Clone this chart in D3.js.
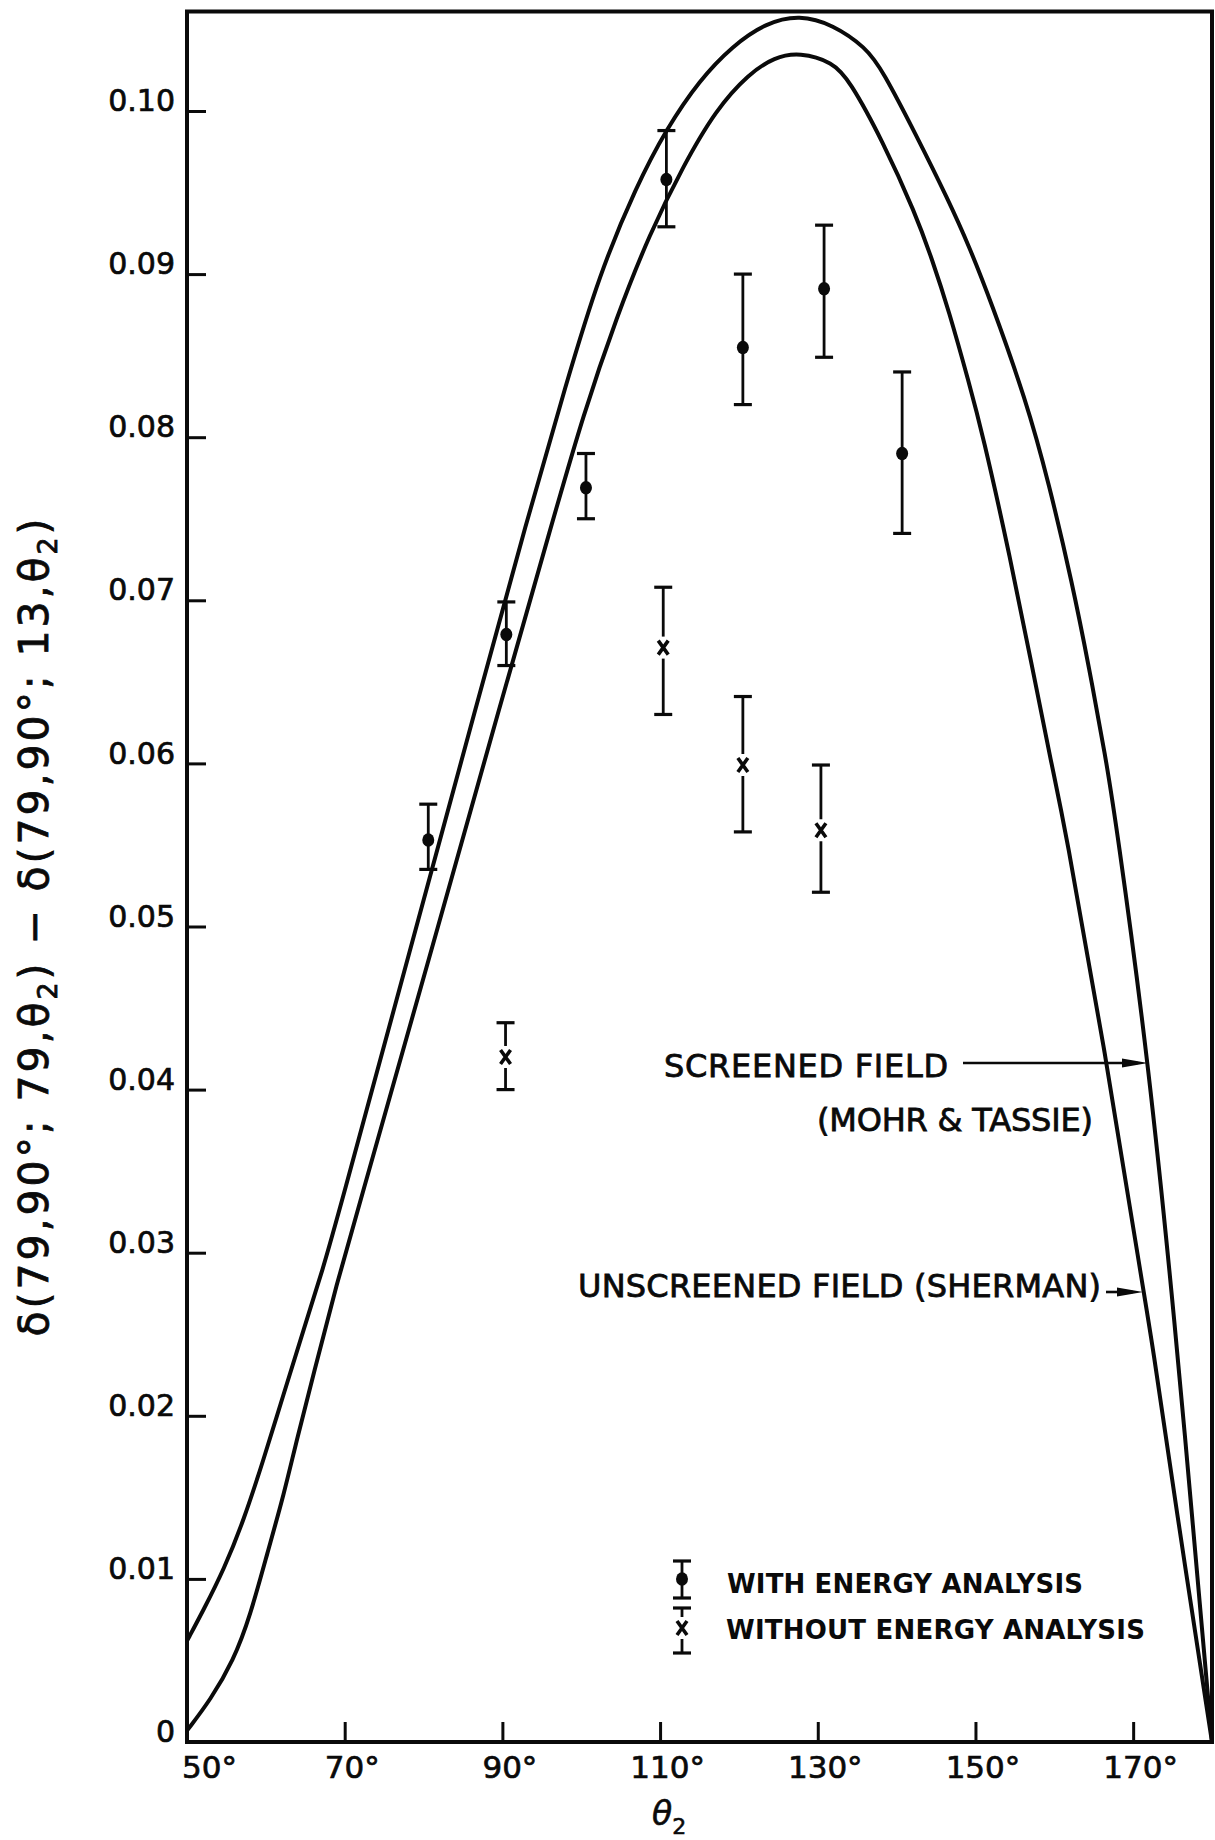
<!DOCTYPE html>
<html><head><meta charset="utf-8">
<script src="https://cdn.jsdelivr.net/npm/d3@7"></script>
<style>html,body{margin:0;padding:0;background:#fff}</style>
</head><body><svg id="c" width="1215" height="1840"></svg>
<script>
// ---------------- data ----------------
const xTicks = [50, 70, 90, 110, 130, 150, 170];
const xTickLabels = ["50°", "70°", "90°", "110°", "130°", "150°", "170°"];
const yTicks = [0, 0.01, 0.02, 0.03, 0.04, 0.05, 0.06, 0.07, 0.08, 0.09, 0.10];
const yTickLabels = ["0", "0.01", "0.02", "0.03", "0.04", "0.05", "0.06", "0.07", "0.08", "0.09", "0.10"];

// Screened field (Mohr & Tassie) curve
const screenedTheta = [50, 52.1, 54.7, 57.2, 59.7, 62.3, 64.8, 67.3, 69.0, 77.7, 86.9, 93.1, 98.1, 102.3, 107.0, 110.8, 115.0, 119.2, 123.4, 127.7, 131.9, 136.1, 138.2, 142.4, 146.6, 149.2, 151.9, 156.4, 159.3, 162.3, 164.4, 166.5, 167.8, 172.0, 175.5, 177.3, 180];
const screenedValue = [0.0062, 0.0081, 0.0106, 0.0136, 0.0173, 0.0214, 0.0253, 0.0291, 0.0320, 0.0475, 0.0639, 0.0749, 0.0833, 0.0900, 0.0954, 0.0989, 0.1019, 0.1040, 0.1054, 0.1059, 0.1053, 0.1039, 0.1025, 0.0986, 0.0945, 0.0917, 0.0884, 0.0823, 0.0772, 0.0710, 0.0659, 0.0604, 0.0565, 0.0416, 0.0246, 0.0148, 0.0];

// Unscreened field (Sherman) curve
const unscreenedTheta = [50, 53.0, 55.9, 58.0, 60.2, 62.3, 63.9, 66.5, 69.0, 71.3, 80.4, 89.9, 96.4, 100.2, 104.5, 108.7, 112.9, 117.1, 121.3, 124.5, 127.7, 131.9, 134.0, 138.2, 142.4, 144.5, 146.6, 149.2, 150.9, 154.2, 157.2, 159.7, 161.2, 166.5, 171.1, 172.4, 175.3, 180];
const unscreenedValue = [0.0007, 0.0026, 0.0050, 0.0077, 0.0116, 0.0152, 0.0185, 0.0234, 0.0281, 0.0320, 0.0475, 0.0639, 0.0749, 0.0813, 0.0874, 0.0925, 0.0966, 0.1001, 0.1023, 0.1033, 0.1036, 0.1030, 0.1019, 0.0982, 0.0937, 0.0909, 0.0878, 0.0833, 0.0802, 0.0731, 0.0659, 0.0598, 0.0565, 0.0422, 0.0282, 0.0246, 0.0148, 0.0];

// With energy analysis (dots)
const withTheta = [80.6, 90.5, 100.6, 110.8, 120.5, 130.8, 140.7];
const withValue = [0.0553, 0.0679, 0.0769, 0.0958, 0.0855, 0.0891, 0.0790];
const withHigh  = [0.0575, 0.0699, 0.0790, 0.0988, 0.0900, 0.0930, 0.0840];
const withLow   = [0.0535, 0.0660, 0.0750, 0.0929, 0.0820, 0.0849, 0.0741];

// Without energy analysis (crosses)
const withoutTheta = [90.4, 110.4, 120.5, 130.4];
const withoutValue = [0.0420, 0.0671, 0.0599, 0.0559];
const withoutHigh  = [0.0441, 0.0708, 0.0641, 0.0599];
const withoutLow   = [0.0400, 0.0630, 0.0558, 0.0521];

const legendLabels = ["WITH ENERGY ANALYSIS", "WITHOUT ENERGY ANALYSIS"];
const screenedLabel = ["SCREENED FIELD", "(MOHR & TASSIE)"];
const unscreenedLabel = "UNSCREENED FIELD (SHERMAN)";

// ---------------- chart ----------------
const W = 1215, H = 1840;
const svg = d3.select("#c");
svg.append("rect").attr("width", W).attr("height", H).attr("fill", "#fff");

const x = d3.scaleLinear().domain([50, 180]).range([187, 1212]);
const y = d3.scaleLinear().domain([0, 0.1061]).range([1742, 11.5]);
const INK = "#0a0a0a";
const FONT = "DejaVu Sans, sans-serif";

// clip
svg.append("clipPath").attr("id", "plotclip").append("rect")
  .attr("x", x(50)).attr("y", y(0.1061))
  .attr("width", x(180) - x(50)).attr("height", y(0) - y(0.1061));

// y axis
const gY = svg.append("g").attr("transform", `translate(${x(50)},0)`)
  .call(d3.axisLeft(y).tickValues(yTicks).tickSize(-19).tickSizeOuter(0).tickPadding(12)
    .tickFormat((d, i) => yTickLabels[i]));
gY.attr("font-family", FONT).attr("font-size", 30);
gY.select(".domain").remove();
gY.selectAll(".tick line").attr("stroke", INK).attr("stroke-width", 3);
gY.selectAll(".tick text").attr("fill", INK).attr("stroke", INK).attr("stroke-width", 0.7).attr("y", -10);

// x axis
const gX = svg.append("g").attr("transform", `translate(0,${y(0)})`)
  .call(d3.axisBottom(x).tickValues(xTicks).tickSize(-20).tickSizeOuter(0).tickPadding(14)
    .tickFormat((d, i) => xTickLabels[i]));
gX.attr("font-family", FONT).attr("font-size", 31);
gX.select(".domain").remove();
gX.selectAll(".tick line").attr("stroke", INK).attr("stroke-width", 3);
gX.selectAll(".tick text").attr("fill", INK).attr("stroke", INK).attr("stroke-width", 0.7)
  .attr("dx", (d, i) => i === 0 ? 22 : 7);

// frame
svg.append("rect")
  .attr("x", x(50)).attr("y", y(0.1061))
  .attr("width", x(180) - x(50)).attr("height", y(0) - y(0.1061))
  .attr("fill", "none").attr("stroke", INK).attr("stroke-width", 4);

// curves
const line = d3.line().x(d => x(d[0])).y(d => y(d[1])).curve(d3.curveBasis);
const curves = svg.append("g").attr("clip-path", "url(#plotclip)");
curves.append("path").datum(d3.zip(screenedTheta, screenedValue))
  .attr("d", line).attr("fill", "none").attr("stroke", INK).attr("stroke-width", 4);
curves.append("path").datum(d3.zip(unscreenedTheta, unscreenedValue))
  .attr("d", line).attr("fill", "none").attr("stroke", INK).attr("stroke-width", 4);

// error bars
const CAP = 9;
function drawBar(g, cx, yHi, yC, yLo, type) {
  const s = g.append("g").attr("stroke", INK).attr("fill", INK);
  s.append("line").attr("x1", cx - CAP).attr("x2", cx + CAP).attr("y1", yHi).attr("y2", yHi).attr("stroke-width", 3.2);
  s.append("line").attr("x1", cx - CAP).attr("x2", cx + CAP).attr("y1", yLo).attr("y2", yLo).attr("stroke-width", 3.2);
  if (type === "dot") {
    s.append("line").attr("x1", cx).attr("x2", cx).attr("y1", yHi).attr("y2", yLo).attr("stroke-width", 2.8);
    s.append("ellipse").attr("cx", cx).attr("cy", yC).attr("rx", 6).attr("ry", 6.8).attr("stroke", "none");
  } else {
    s.append("line").attr("x1", cx).attr("x2", cx).attr("y1", yHi).attr("y2", yC - 11).attr("stroke-width", 2.8);
    s.append("line").attr("x1", cx).attr("x2", cx).attr("y1", yC + 11).attr("y2", yLo).attr("stroke-width", 2.8);
    s.append("path").attr("d", `M${cx - 5},${yC - 7}L${cx + 5},${yC + 7}M${cx + 5},${yC - 7}L${cx - 5},${yC + 7}`)
      .attr("fill", "none").attr("stroke-width", 3.6);
  }
}
const gPts = svg.append("g");
withTheta.forEach((t, i) => drawBar(gPts, x(t), y(withHigh[i]), y(withValue[i]), y(withLow[i]), "dot"));
withoutTheta.forEach((t, i) => drawBar(gPts, x(t), y(withoutHigh[i]), y(withoutValue[i]), y(withoutLow[i]), "cross"));

// fitted text helper
function fitText(sel, target) {
  const n = sel.text().length;
  const w = sel.node().getComputedTextLength();
  sel.attr("letter-spacing", ((target - w) / Math.max(1, n - 1)).toFixed(2));
}

// annotations
const ann = svg.append("g").attr("font-family", FONT).attr("fill", INK).attr("font-size", 32)
  .attr("stroke", INK).attr("stroke-width", 0.8);
fitText(ann.append("text").attr("x", 664).attr("y", 1077).text(screenedLabel[0]), 284);
fitText(ann.append("text").attr("x", 817).attr("y", 1131).text(screenedLabel[1]), 276);
fitText(ann.append("text").attr("x", 578).attr("y", 1297).text(unscreenedLabel), 523);

const arr = svg.append("g");
function arrow(x1, x2, yy) {
  arr.append("line").attr("x1", x1).attr("x2", x2 - 10).attr("y1", yy).attr("y2", yy)
    .attr("stroke", INK).attr("stroke-width", 2.6);
  arr.append("path").attr("d", `M${x2},${yy}L${x2 - 26},${yy - 4.5}L${x2 - 26},${yy + 4.5}Z`).attr("fill", INK);
}
arrow(963, 1148, 1063);
arrow(1106, 1143, 1292);

// legend
const leg = svg.append("g");
drawBar(leg, 682, 1561, 1579, 1598, "dot");
drawBar(leg, 682, 1608, 1628, 1653, "cross");
const legT = leg.append("g").attr("font-family", FONT).attr("font-weight", "bold").attr("font-size", 26).attr("fill", INK);
fitText(legT.append("text").attr("x", 727).attr("y", 1593).text(legendLabels[0]), 356);
fitText(legT.append("text").attr("x", 726).attr("y", 1639).text(legendLabels[1]), 419);

// y-axis title
const yt = svg.append("text").attr("font-family", FONT).attr("font-size", 41).attr("fill", INK)
  .attr("stroke", INK).attr("stroke-width", 0.8)
  .attr("text-anchor", "middle").attr("transform", "translate(48,926) rotate(-90)");
yt.append("tspan").text("δ(79,90°; 79,θ");
yt.append("tspan").attr("font-size", 27).attr("dy", 9).text("2");
yt.append("tspan").attr("dy", -9).text(") − δ(79,90°; 13,θ");
yt.append("tspan").attr("font-size", 27).attr("dy", 9).text("2");
yt.append("tspan").attr("dy", -9).text(")");
{
  const w = yt.node().getComputedTextLength();
  const n = yt.text().length;
  yt.attr("letter-spacing", ((818 - w) / (n - 1)).toFixed(2));
}

// x-axis title
const xt = svg.append("text").attr("font-family", FONT).attr("font-size", 33).attr("font-style", "italic")
  .attr("fill", INK).attr("stroke", INK).attr("stroke-width", 0.6).attr("x", 652).attr("y", 1825);
xt.append("tspan").text("θ");
xt.append("tspan").attr("font-size", 22).attr("font-style", "normal").attr("dy", 9).text("2");
</script>
</body></html>
